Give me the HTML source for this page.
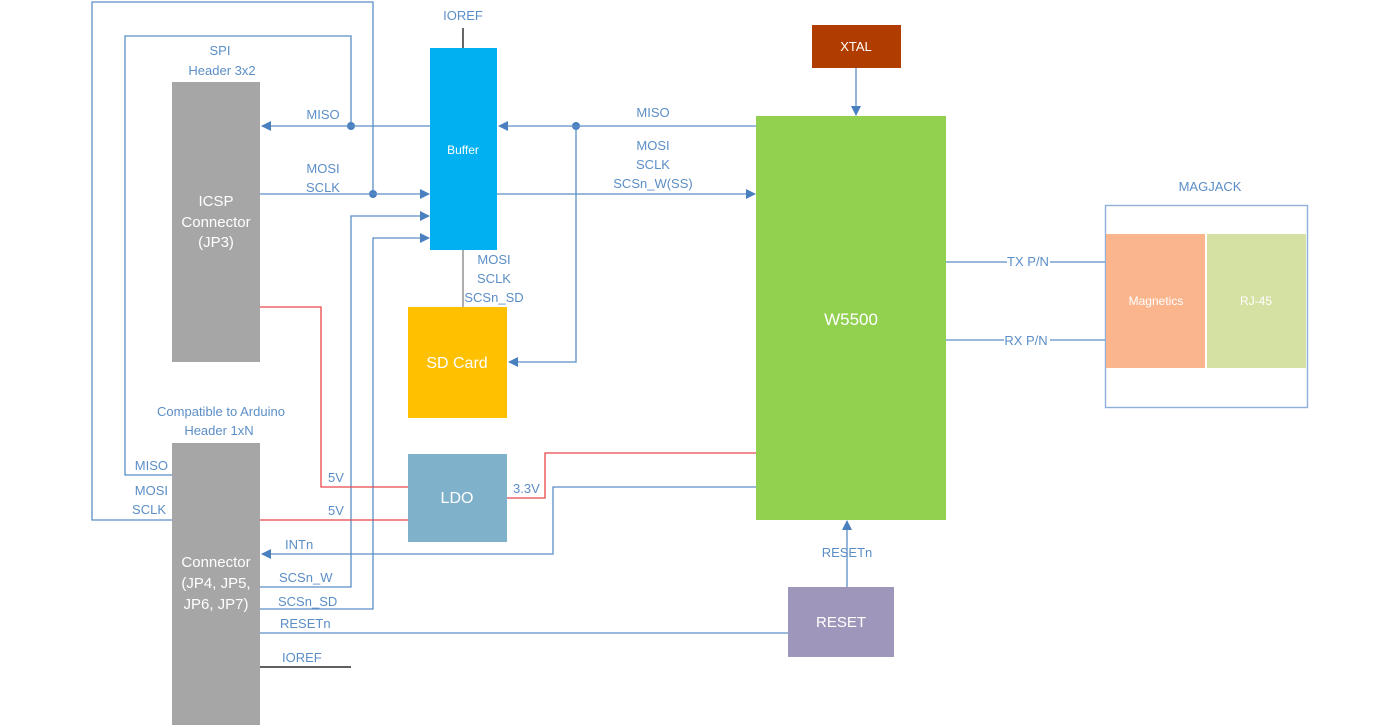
<!DOCTYPE html>
<html><head><meta charset="utf-8"><style>
html,body{margin:0;padding:0;background:#fff;}
svg{display:block;font-family:"Liberation Sans",sans-serif;}
.l{stroke:#5b8ec6;stroke-width:1.3;fill:none}
.r{stroke:#e8484a;stroke-width:1.3;fill:none}
.t{fill:#5b8ec6;font-size:13px}
.w{fill:#fff}
</style></head><body>
<svg width="1400" height="725" viewBox="0 0 1400 725" xmlns="http://www.w3.org/2000/svg">
<defs><marker id="a" markerWidth="10" markerHeight="10" refX="9" refY="5" orient="auto" markerUnits="userSpaceOnUse"><path d="M0,0 L10,5 L0,10 z" fill="#4a7fc0"/></marker></defs>
<path class="l" d="M172,520 H92 V2 H373 V194"/>
<path class="l" d="M172,475 H125 V36 H351 V126"/>
<circle cx="373" cy="194" r="4" fill="#4a7fc0"/>
<circle cx="351" cy="126" r="4" fill="#4a7fc0"/>
<circle cx="576" cy="126" r="4" fill="#4a7fc0"/>
<rect x="172" y="82" width="88" height="280" fill="#a6a6a6"/>
<rect x="172" y="443" width="88" height="282" fill="#a6a6a6"/>
<rect x="430" y="48" width="67" height="202" fill="#00b0f0"/>
<rect x="408" y="307" width="99" height="111" fill="#ffc000"/>
<rect x="408" y="454" width="99" height="88" fill="#7fb1cb"/>
<rect x="756" y="116" width="190" height="404" fill="#92d050"/>
<rect x="812" y="25" width="89" height="43" fill="#b03c00"/>
<rect x="788" y="587" width="106" height="70" fill="#9f97bb"/>
<rect x="1105.5" y="205.5" width="202" height="202" fill="none" stroke="#8fb0da" stroke-width="1.4"/>
<rect x="1106" y="234" width="99" height="134" fill="#fbb58d"/>
<rect x="1207" y="234" width="99" height="134" fill="#d5e0a3"/>
<line x1="463" y1="28" x2="463" y2="48" stroke="#000" stroke-width="1.2"/>
<line x1="463" y1="250" x2="463" y2="307" stroke="#777" stroke-width="1.2"/>
<path class="l" d="M756,126 H499" marker-end="url(#a)"/>
<path class="l" d="M430,126 H262" marker-end="url(#a)"/>
<path class="l" d="M576,126 V362 H509" marker-end="url(#a)"/>
<path class="l" d="M260,194 H429" marker-end="url(#a)"/>
<path class="l" d="M497,194 H755" marker-end="url(#a)"/>
<path class="l" d="M260,587 H351 V216 H429" marker-end="url(#a)"/>
<path class="l" d="M260,609 H373 V238 H429" marker-end="url(#a)"/>
<path class="r" d="M260,307 H321 V487 H408"/>
<path class="r" d="M260,520 H408"/>
<path class="r" d="M507,498 H545 V453 H756"/>
<path class="l" d="M756,487 H553 V554 H262" marker-end="url(#a)"/>
<path class="l" d="M260,633 H788"/>
<line x1="260" y1="667" x2="351" y2="667" stroke="#000" stroke-width="1.2"/>
<path class="l" d="M856,68 V115" marker-end="url(#a)"/>
<path class="l" d="M847,587 V521" marker-end="url(#a)"/>
<path class="l" d="M946,262 H1007 M1050,262 H1105 M946,340 H1004 M1050,340 H1105"/>
<g class="t" text-anchor="middle">
<text x="463" y="20">IOREF</text>
<text x="220" y="55">SPI</text>
<text x="222" y="75">Header 3x2</text>
<text x="323" y="119">MISO</text>
<text x="323" y="173">MOSI</text>
<text x="323" y="192">SCLK</text>
<text x="653" y="117">MISO</text>
<text x="653" y="150">MOSI</text>
<text x="653" y="169">SCLK</text>
<text x="653" y="188">SCSn_W(SS)</text>
<text x="494" y="264">MOSI</text>
<text x="494" y="283">SCLK</text>
<text x="494" y="302">SCSn_SD</text>
<text x="221" y="416">Compatible to Arduino</text>
<text x="219" y="435">Header 1xN</text>
<text x="1210" y="191">MAGJACK</text>
<text x="1028" y="266">TX P/N</text>
<text x="1026" y="345">RX P/N</text>
<text x="847" y="557">RESETn</text>
</g>
<g class="t" text-anchor="end">
<text x="168" y="470">MISO</text>
<text x="168" y="495">MOSI</text>
<text x="166" y="514">SCLK</text>
</g>
<g class="t">
<text x="328" y="482">5V</text>
<text x="328" y="515">5V</text>
<text x="513" y="493">3.3V</text>
<text x="285" y="549">INTn</text>
<text x="279" y="582">SCSn_W</text>
<text x="278" y="606">SCSn_SD</text>
<text x="280" y="628">RESETn</text>
<text x="282" y="662">IOREF</text>
</g>
<g class="w" text-anchor="middle">
<text x="216" y="206" font-size="15">ICSP</text>
<text x="216" y="227" font-size="15">Connector</text>
<text x="216" y="247" font-size="15">(JP3)</text>
<text x="216" y="567" font-size="15">Connector</text>
<text x="216" y="588" font-size="15">(JP4, JP5,</text>
<text x="216" y="609" font-size="15">JP6, JP7)</text>
<text x="463" y="154" font-size="12">Buffer</text>
<text x="457" y="368" font-size="16">SD Card</text>
<text x="457" y="503" font-size="16">LDO</text>
<text x="851" y="325" font-size="17">W5500</text>
<text x="856" y="51" font-size="13">XTAL</text>
<text x="841" y="627" font-size="15">RESET</text>
<text x="1156" y="305" font-size="12">Magnetics</text>
<text x="1256" y="305" font-size="12">RJ-45</text>
</g>
</svg>
</body></html>
